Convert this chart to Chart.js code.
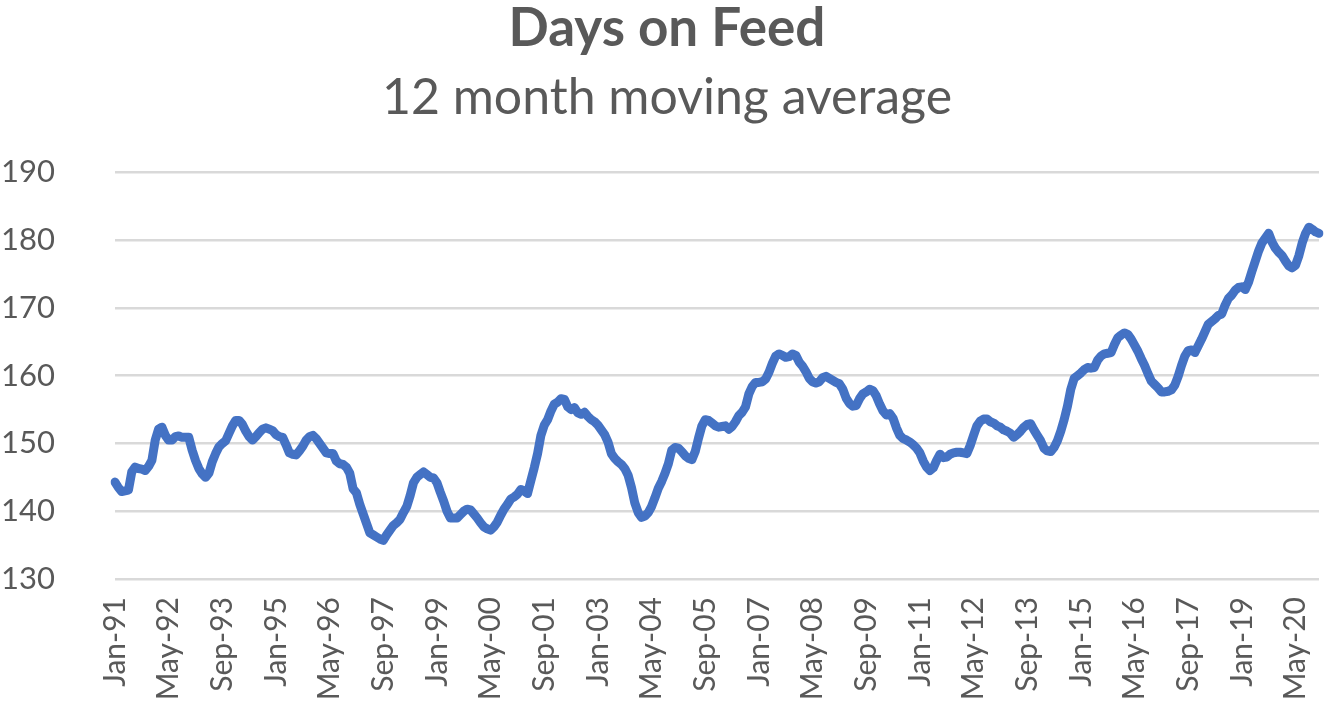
<!DOCTYPE html>
<html>
<head>
<meta charset="utf-8">
<script src="https://cdn.jsdelivr.net/npm/chart.js@4.4.1/dist/chart.umd.min.js"></script>
<style>
  html, body { margin: 0; padding: 0; background: #ffffff; }
  #wrap { width: 1325px; height: 718px; position: relative; }
</style>
</head>
<body>
<div id="wrap"><canvas id="c"></canvas></div>
<script>
// ---- Data ----
const monthNames = ['Jan','Feb','Mar','Apr','May','Jun','Jul','Aug','Sep','Oct','Nov','Dec'];
const years = [1991,1992,1993,1994,1995,1996,1997,1998,1999,2000,2001,2002,2003,2004,2005,2006,2007,2008,2009,2010,2011,2012,2013,2014,2015,2016,2017,2018,2019,2020];
const tickEvery = 16; // a label every 16 months

const values1990s = [
  144.3, 143.5, 142.9, 143.0, 143.1, 145.8, 146.5, 146.3, 146.2, 146.0, 146.6, 147.5, // 1991
  150.5, 152.1, 152.4, 151.2, 150.5, 150.5, 151.0, 151.1, 150.9, 150.9, 150.9, 149.0, // 1992
  147.5, 146.3, 145.5, 145.0, 145.6, 147.3, 148.5, 149.5, 150.0, 150.4, 151.5, 152.6, // 1993
  153.4, 153.4, 152.8, 151.8, 151.0, 150.5, 151.0, 151.6, 152.1, 152.3, 152.1, 151.9, // 1994
  151.3, 151.0, 150.9, 149.8, 148.6, 148.4, 148.3, 148.9, 149.6, 150.5, 151.0, 151.2, // 1995
  150.7, 150.0, 149.3, 148.6, 148.5, 148.5, 147.4, 147.0, 146.9, 146.5, 145.6, 143.3, // 1996
  142.7, 141.0, 139.6, 138.2, 136.8, 136.5, 136.2, 135.9, 135.7, 136.5, 137.2, 137.9, // 1997
  138.3, 138.8, 139.8, 140.7, 142.3, 144.2, 145.0, 145.4, 145.8, 145.4, 145.0, 144.9, // 1998
  144.2, 142.8, 141.5, 140.0, 139.0, 139.0, 139.0, 139.5, 140.0, 140.3, 140.2, 139.6  // 1999
];
const values2000s = [
  139.0, 138.3, 137.7, 137.4, 137.2, 137.7, 138.4, 139.4, 140.3, 141.0, 141.8, 142.1, // 2000
  142.5, 143.2, 143.0, 142.6, 144.5, 146.4, 148.5, 151.2, 152.7, 153.5, 154.8, 155.8, // 2001
  156.1, 156.6, 156.5, 155.4, 155.0, 155.3, 154.5, 154.3, 154.6, 154.0, 153.5, 153.2, // 2002
  152.7, 152.0, 151.3, 150.2, 148.5, 147.8, 147.3, 146.9, 146.3, 145.3, 143.5, 141.2, // 2003
  139.8, 139.1, 139.3, 139.8, 140.7, 142.0, 143.4, 144.4, 145.6, 147.0, 149.0, 149.4, // 2004
  149.3, 148.8, 148.2, 147.8, 147.6, 148.8, 150.8, 152.6, 153.5, 153.4, 153.0, 152.6, // 2005
  152.4, 152.5, 152.6, 152.1, 152.5, 153.2, 154.1, 154.6, 155.4, 157.3, 158.4, 159.0, // 2006
  159.0, 159.1, 159.5, 160.5, 161.8, 162.9, 163.2, 163.0, 162.7, 162.8, 163.2, 163.0, // 2007
  162.0, 161.4, 160.6, 159.6, 159.1, 158.9, 159.1, 159.7, 159.9, 159.6, 159.3, 159.0, // 2008
  158.8, 158.0, 156.7, 155.9, 155.5, 155.6, 156.6, 157.3, 157.6, 158.0, 157.8, 157.0  // 2009
];
const values2010s = [
  155.8, 154.8, 154.2, 154.4, 153.7, 152.3, 151.2, 150.7, 150.5, 150.2, 149.8, 149.3, // 2010
  148.6, 147.4, 146.5, 146.0, 146.4, 147.5, 148.4, 147.9, 148.0, 148.4, 148.6, 148.7, // 2011
  148.7, 148.6, 148.5, 149.7, 151.2, 152.6, 153.3, 153.6, 153.6, 153.2, 153.0, 152.6, // 2012
  152.4, 152.0, 151.8, 151.5, 150.9, 151.3, 151.8, 152.4, 152.8, 152.9, 152.0, 151.2, // 2013
  150.4, 149.3, 148.9, 148.8, 149.4, 150.4, 151.8, 153.5, 155.5, 158.0, 159.6, 160.0, // 2014
  160.4, 160.9, 161.2, 161.1, 161.2, 162.3, 162.9, 163.2, 163.3, 163.4, 164.6, 165.6, // 2015
  166.0, 166.3, 166.1, 165.4, 164.5, 163.6, 162.5, 161.5, 160.3, 159.2, 158.7, 158.2, // 2016
  157.6, 157.6, 157.7, 157.9, 158.6, 159.9, 161.5, 162.9, 163.7, 163.8, 163.4, 164.4, // 2017
  165.4, 166.5, 167.6, 168.0, 168.4, 168.9, 169.1, 170.4, 171.4, 171.9, 172.6, 173.0, // 2018
  173.1, 172.7, 173.8, 175.4, 176.9, 178.4, 179.6, 180.3, 181.0, 179.7, 178.8, 178.2  // 2019
];
const values2020s = [
  177.7, 176.9, 176.2, 175.9, 176.3, 177.7, 179.6, 181.0, 181.9, 181.6, 181.2, 181.0  // 2020
];
const yTicks = [130, 140, 150, 160, 170, 180, 190];

// ---- Build what the library needs ----
const labels = [];
years.forEach(y => monthNames.forEach(m => labels.push(m + '-' + String(y % 100).padStart(2, '0'))));
const values = [].concat(values1990s, values2000s, values2010s, values2020s);

const textColor = '#595959';
const FONT = 'Lato, "Open Sans", sans-serif';

new Chart(document.getElementById('c'), {
  type: 'line',
  data: {
    labels: labels,
    datasets: [{
      data: values,
      borderColor: '#4472C4',
      backgroundColor: '#4472C4',
      borderWidth: 9,
      pointRadius: 0,
      tension: 0,
      borderJoinStyle: 'round',
      borderCapStyle: 'round',
      fill: false
    }]
  },
  options: {
    responsive: true,
    maintainAspectRatio: false,
    animation: false,
    devicePixelRatio: 1,
    layout: { padding: { top: 0, right: -9, bottom: 0, left: 0 } },
    plugins: {
      legend: { display: false },
      tooltip: { enabled: false },
      title: {
        display: true,
        text: 'Days on Feed',
        color: textColor,
        font: { family: FONT, size: 53, weight: 'bold', lineHeight: 1.1 },
        padding: { top: 0, bottom: 0 }
      },
      subtitle: {
        display: true,
        text: '12 month moving average',
        color: textColor,
        font: { family: FONT, size: 50, weight: 'normal', lineHeight: 1.1 },
        padding: { top: 12, bottom: 47 }
      }
    },
    scales: {
      x: {
        type: 'category',
        offset: false,
        grid: { display: false, drawTicks: false },
        border: { display: false },
        ticks: {
          autoSkip: false,
          maxRotation: 90,
          minRotation: 90,
          padding: 18,
          color: textColor,
          font: { family: FONT, size: 30 },
          callback: function (val, idx) { return idx % tickEvery === 0 ? labels[idx] : null; }
        },
        afterFit: function (scale) {
          scale.height = 139;
          scale.paddingRight = 0;
          scale.paddingLeft = 0;
        }
      },
      y: {
        min: yTicks[0],
        max: yTicks[yTicks.length - 1],
        afterBuildTicks: function (scale) { scale.ticks = yTicks.map(v => ({ value: v })); },
        grid: { color: '#D9D9D9', lineWidth: 2.5, drawTicks: false },
        border: { display: false },
        ticks: {
          padding: 60,
          color: textColor,
          font: { family: FONT, size: 31 }
        },
        afterFit: function (scale) { scale.width = 115; }
      },
      yRightSpace: {
        position: 'right',
        display: true,
        min: 0,
        max: 1,
        grid: { display: false, drawTicks: false },
        border: { display: false },
        ticks: { display: false },
        afterFit: function (scale) { scale.width = 15; }
      }
    }
  }
});
</script>
</body>
</html>
